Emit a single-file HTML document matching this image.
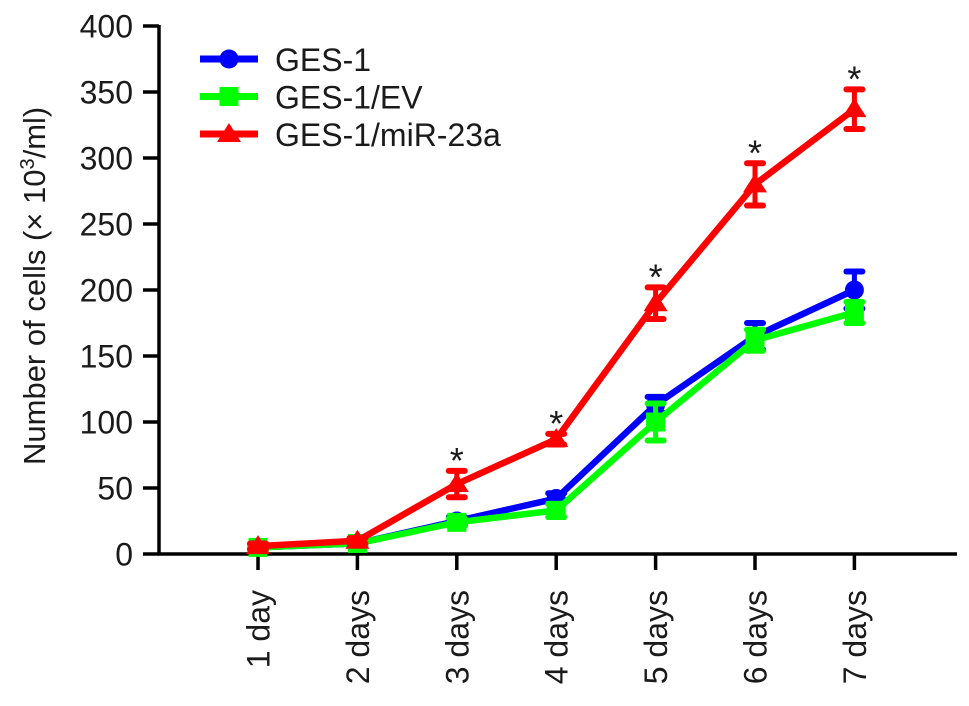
<!DOCTYPE html>
<html><head><meta charset="utf-8"><style>
body{margin:0;background:#fff;}
svg text{font-family:"Liberation Sans",Arial,sans-serif;fill:#1a1a1a;}
</style></head><body>
<svg id="chart" width="969" height="701" xmlns="http://www.w3.org/2000/svg"></svg>
<script>
const categories=["1 day","2 days","3 days","4 days","5 days","6 days","7 days"];
const yTicks=[0,50,100,150,200,250,300,350,400];
const gesValues=[5,8,25,42,113,165,200];
const gesErr=[2,2,3,4,6,10,14];
const evValues=[5,8,24,33,100,162,183];
const evErr=[2,2,3,5,14,8,8];
const mirValues=[6,10,53,87,190,280,337];
const mirErr=[2,2,10,4,12,16,15];
const sigFlags=[0,0,1,1,1,1,1];
const NS="http://www.w3.org/2000/svg";
const svg=document.getElementById('chart');
const X0=258,DX=99.4,Y0=554,YS=528/400,AXL=159;
function xs(i){return X0+i*DX;}
function ys(v){return Y0-v*YS;}
function el(t,a,p){const e=document.createElementNS(NS,t);for(const k in a)e.setAttribute(k,a[k]);(p||svg).appendChild(e);return e;}
let ya=el('line',{x1:AXL,y1:ys(400)-1,x2:AXL,y2:Y0+1.5,stroke:'#000','stroke-width':3.5});


let xa=el('line',{x1:AXL-1.5,y1:Y0,x2:957,y2:Y0,stroke:'#000','stroke-width':3.5});


yTicks.forEach(v=>{
  let t=el('line',{x1:AXL-16,y1:ys(v),x2:AXL,y2:ys(v),stroke:'#000','stroke-width':3.5});
  
  
  let l=el('text',{x:133,y:ys(v)+11.5,'text-anchor':'end','font-size':32});
  l.textContent=v;
  
  
});
categories.forEach((c,i)=>{
  let t=el('line',{x1:xs(i),y1:Y0,x2:xs(i),y2:Y0+16,stroke:'#000','stroke-width':3.5});
  
  
  let l=el('text',{x:0,y:0,'text-anchor':'end','font-size':32,transform:`translate(${xs(i)+11.5},${Y0+36}) rotate(-90)`});
  l.textContent=c;
  
  
});
let yt=el('text',{x:0,y:0,'text-anchor':'start','font-size':31,transform:'translate(45,465) rotate(-90)'});
yt.innerHTML='Number of cells (× 10<tspan dy="-11" font-size="20">3</tspan><tspan dy="11">/ml)</tspan>';


function marker(type,x,y,color,g){
  if(type==='circle')return el('circle',{cx:x,cy:y,r:9.5,fill:color},g);
  if(type==='square')return el('rect',{x:x-9.5,y:y-9.5,width:19,height:19,fill:color},g);
  return el('polygon',{points:`${x},${y-11} ${x-12},${y+8} ${x+12},${y+8}`,fill:color},g);
}
function series(name,vals,errs,color,type){
  const g=el('g',{});
  
  
  const pts=vals.map((v,i)=>xs(i)+','+ys(v)).join(' ');
  el('polyline',{points:pts,fill:'none',stroke:color,'stroke-width':6.5,'stroke-linejoin':'round'},g);
  vals.forEach((v,i)=>{
    const e=errs[i],x=xs(i);
    el('line',{x1:x,y1:ys(v+e),x2:x,y2:ys(v-e),stroke:color,'stroke-width':5},g);
    el('line',{x1:x-8,y1:ys(v+e),x2:x+8,y2:ys(v+e),stroke:color,'stroke-width':6,'stroke-linecap':'round'},g);
    el('line',{x1:x-8,y1:ys(v-e),x2:x+8,y2:ys(v-e),stroke:color,'stroke-width':6,'stroke-linecap':'round'},g);
    const m=marker(type,x,ys(v),color,g);
    
    
  });
}
series('ges-1',gesValues,gesErr,'#0000ff','circle');
series('ges-1-ev',evValues,evErr,'#00ff00','square');
series('ges-1-mir-23a',mirValues,mirErr,'#ff0000','triangle');
sigFlags.forEach((f,i)=>{
  if(!f)return;
  const top=Math.max(mirValues[i]+mirErr[i],gesValues[i]+gesErr[i]);
  let s=el('text',{x:xs(i),y:ys(top)+2,'text-anchor':'middle','font-size':36});
  s.textContent='*';
  
  
});
const legendNames=['GES-1','GES-1/EV','GES-1/miR-23a'];
const legendColors=['#0000ff','#00ff00','#ff0000'];
const legendTypes=['circle','square','triangle'];
legendNames.forEach((n,i)=>{
  const y=59+i*37.5;
  const g=el('g',{});
  
  
  el('line',{x1:200,y1:y,x2:258,y2:y,stroke:legendColors[i],'stroke-width':7},g);
  marker(legendTypes[i],229,y,legendColors[i],g);
  const t=el('text',{x:275,y:y+12,'font-size':32},g);
  t.textContent=n;
});
</script>
</body></html>
